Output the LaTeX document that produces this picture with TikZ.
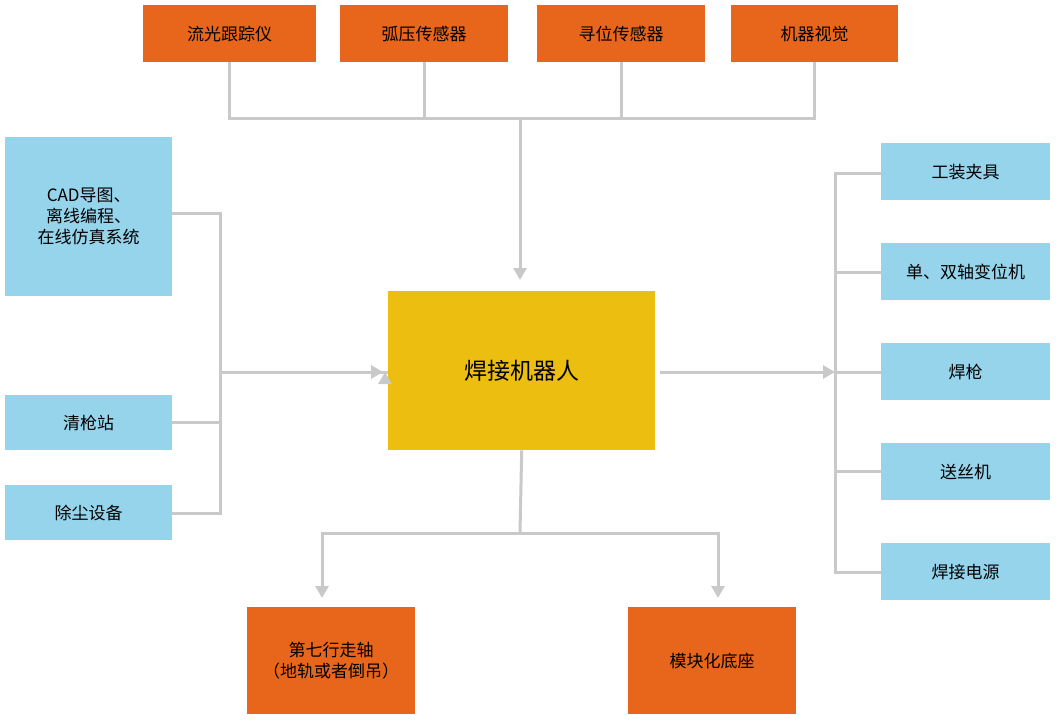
\documentclass[tikz,border=0pt]{standalone}
\usepackage{fontspec}
\setmainfont{Noto Sans CJK SC}
\usetikzlibrary{arrows.meta}
\definecolor{org}{HTML}{E8661C}
\definecolor{blu}{HTML}{96D4EC}
\definecolor{yel}{HTML}{EBBE10}
\definecolor{lin}{HTML}{C9C9C9}
\begin{document}
\begin{tikzpicture}[x=1pt,y=-1pt,
 bx/.style={draw=none,anchor=north west,inner sep=0pt,align=center,font=\fontsize{17}{21}\selectfont},
 ob/.style={bx,fill=org},
 lb/.style={bx,fill=blu},
 ln/.style={draw=lin,line width=3pt},
 ar/.style={ln,-{Triangle[length=12pt,width=13pt]}}]
\useasboundingbox (0,0) rectangle (1058,723);
\fill[white] (0,0) rectangle (1058,723);
% top
\node[ob,minimum width=173,minimum height=57] (t1) at (143,5) {流光跟踪仪};
\node[ob,minimum width=168,minimum height=57] (t2) at (340,5) {弧压传感器};
\node[ob,minimum width=168,minimum height=57] (t3) at (537,5) {寻位传感器};
\node[ob,minimum width=167,minimum height=57] (t4) at (731,5) {机器视觉};
% center
\node[bx,fill=yel,minimum width=267,minimum height=159,font=\fontsize{23}{28}\selectfont] (c) at (388,291) {焊接机器人};
% left
\node[lb,minimum width=167,minimum height=159] (l1) at (5,137) {CAD导图、\\离线编程、\\在线仿真系统};
\node[lb,minimum width=167,minimum height=55] (l2) at (5,395) {清枪站};
\node[lb,minimum width=167,minimum height=55] (l3) at (5,485) {除尘设备};
% right
\foreach \i/\y/\t in {1/143/工装夹具,2/243/单、双轴变位机,3/343/焊枪,4/443/送丝机,5/543/焊接电源}
  \node[lb,minimum width=169,minimum height=57] (r\i) at (881,\y) {\t};
% bottom
\node[ob,minimum width=168,minimum height=107] (b1) at (247,607) {第七行走轴\\（地轨或者倒吊）};
\node[ob,minimum width=168,minimum height=107] (b2) at (628,607) {模块化底座};
% top connectors
\coordinate (tj) at (520,118);
\draw[ln] (t1.south) |- (t4.south |- tj) -- (t4.south);
\draw[ln] (t2.south) -- (t2.south |- tj);
\draw[ln] (t3.south) -- (t3.south |- tj);
\draw[ar] (tj) -- (520,280);
% left connectors
\coordinate (lx) at (220,372);
\draw[ln] (l1.east |- 0,213) -| (220,513) -- (l3.east |- 0,513);
\draw[ln] (l2.east |- 0,422) -- (220,422);
\draw[ar] (lx) -- (c.west |- lx) ++(-3,0);
\draw[ar] (lx) -- (383,372);
% right connectors
\draw[ar] (c.east |- 0,372) ++(5,0) -- (835,372);
\draw[ln] (r1.west |- 0,173) -| (835,572) -- (r5.west |- 0,572);
\draw[ln] (835,272) -- (r2.west |- 0,272);
\draw[ln] (835,372) -- (r3.west |- 0,372);
\draw[ln] (835,471) -- (r4.west |- 0,471);
% bottom connectors
\draw[ln] (c.south) -- (520,533);
\draw[ar] (520,533) -| (322,598);
\draw[ar] (520,533) -| (718,598);
\end{tikzpicture}
\end{document}
